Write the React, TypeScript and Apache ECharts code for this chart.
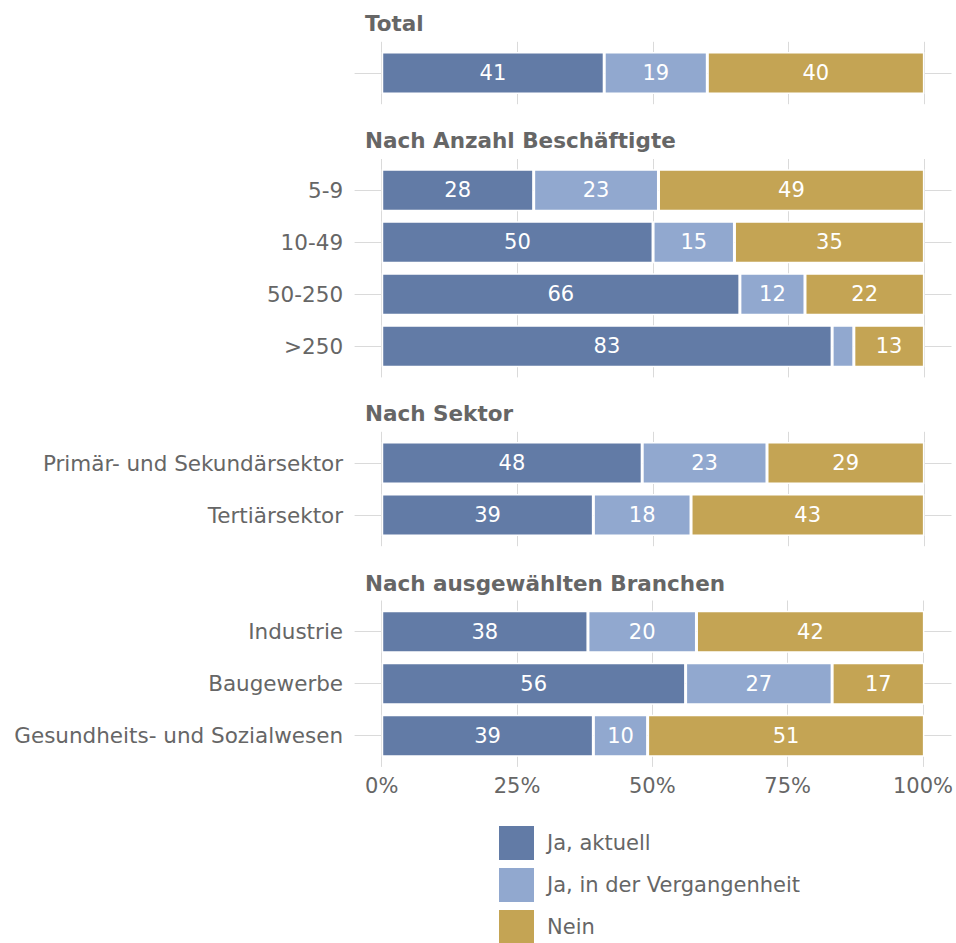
import React, { useEffect, useRef } from "react";
import * as echarts from "echarts";

// ---- data ----
const seriesNames = ["Ja, aktuell", "Ja, in der Vergangenheit", "Nein"];
const seriesColors = ["#627BA6", "#91A8CF", "#C4A454"];

const panelTitles = ["Total", "Nach Anzahl Beschäftigte", "Nach Sektor", "Nach ausgewählten Branchen"];

const totalCats = ["Total"];
const totalAktuell = [41];
const totalVergangen = [19];
const totalNein = [40];

const sizeCats = ["5-9", "10-49", "50-250", ">250"];
const sizeAktuell = [28, 50, 66, 83];
const sizeVergangen = [23, 15, 12, 4];
const sizeNein = [49, 35, 22, 13];

const sectorCats = ["Primär- und Sekundärsektor", "Tertiärsektor"];
const sectorAktuell = [48, 39];
const sectorVergangen = [23, 18];
const sectorNein = [29, 43];

const branchCats = ["Industrie", "Baugewerbe", "Gesundheits- und Sozialwesen"];
const branchAktuell = [38, 56, 39];
const branchVergangen = [20, 27, 10];
const branchNein = [42, 17, 51];

const xTickValues = [0, 25, 50, 75, 100];

const panels = [
  { cats: totalCats, values: [totalAktuell, totalVergangen, totalNein], showCats: false },
  { cats: sizeCats, values: [sizeAktuell, sizeVergangen, sizeNein], showCats: true },
  { cats: sectorCats, values: [sectorAktuell, sectorVergangen, sectorNein], showCats: true },
  { cats: branchCats, values: [branchAktuell, branchVergangen, branchNein], showCats: true },
];

// ---- layout ----
const FONT = "DejaVu Sans";
const TEXT = "#666666";
const GRID_LINE = "#dadada";
const ROW = 52;
const firstCenters = [73, 190.2, 463, 631.7];
const titleY = [23, 140, 413, 583];
const BAR_LEFT = 354.6;
const BAR_RIGHT = 4.5;
const BG_LEFT = 381.7;
const BG_RIGHT = 956 - 924.3;
const EXP = 0.6 * ROW;

export default function App() {
  const ref = useRef<HTMLDivElement>(null);

  useEffect(() => {
    document.body.style.margin = "0";
    if (!ref.current) return;
    const chart = echarts.init(ref.current, undefined, { renderer: "svg" });

    const grid: any[] = [];
    const xAxis: any[] = [];
    const yAxis: any[] = [];
    const series: any[] = [];
    const graphic: any[] = [];

    const n = panels.length;
    panels.forEach((p, i) => {
      const N = p.cats.length;
      const c0 = firstCenters[i];
      // bar grid
      grid.push({ left: BAR_LEFT, right: BAR_RIGHT, top: c0 - ROW / 2, height: N * ROW });
      xAxis.push({ gridIndex: i, type: "value", min: -5, max: 105, show: false });
      yAxis.push({
        gridIndex: i,
        type: "category",
        data: p.cats,
        inverse: true,
        axisLine: { show: false },
        axisTick: { show: false },
        splitLine: { show: false },
        axisLabel: {
          show: p.showCats,
          color: TEXT,
          fontFamily: FONT,
          fontSize: 21.5,
          margin: 11.5,
        },
      });
      p.values.forEach((vals, k) => {
        const s: any = {
          type: "bar",
          name: seriesNames[k],
          xAxisIndex: i,
          yAxisIndex: i,
          stack: "panel" + i,
          data: vals,
          barWidth: 42,
          z: 2,
          itemStyle: { color: seriesColors[k], borderColor: "#ffffff", borderWidth: 1.5 },
          label: {
            show: true,
            position: "inside",
            color: "#ffffff",
            fontFamily: FONT,
            fontSize: 21,
            formatter: (d: any) => (d.value >= 5 ? String(d.value) : ""),
          },
          emphasis: { disabled: true },
        };
        if (k === 0) {
          s.markLine = {
            silent: true,
            symbol: "none",
            z: 1,
            label: { show: false },
            lineStyle: { color: GRID_LINE, width: 1, type: "solid" },
            emphasis: { disabled: true },
            data: p.cats.map((c) => ({ yAxis: c })),
          };
        }
        series.push(s);
      });
      graphic.push({
        type: "text",
        x: 365,
        y: titleY[i],
        style: {
          text: panelTitles[i],
          fill: TEXT,
          font: `bold 21.5px "${FONT}"`,
          verticalAlign: "middle",
        },
      });
    });

    // background grids for vertical grid lines
    panels.forEach((p, i) => {
      const N = p.cats.length;
      const c0 = firstCenters[i];
      const top = c0 - EXP;
      const height = (N - 1) * ROW + 2 * EXP;
      const gi = n + i;
      grid.push({ left: BG_LEFT, right: BG_RIGHT, top, height });
      xAxis.push({
        gridIndex: gi,
        type: "value",
        min: 0,
        max: 100,
        interval: 25,
        axisLine: { show: false },
        axisTick: { show: false },
        splitLine: { show: true, lineStyle: { color: GRID_LINE, width: 1 } },
        axisLabel: {
          show: i === n - 1,
          color: TEXT,
          fontFamily: FONT,
          fontSize: 21,
          margin: 9,
          formatter: "{value}%",
        },
        data: xTickValues,
      });
      yAxis.push({ gridIndex: gi, type: "value", min: 0, max: 1, show: false });
    });

    chart.setOption({
      animation: false,
      grid,
      xAxis,
      yAxis,
      series,
      graphic,
      legend: {
        data: seriesNames,
        orient: "vertical",
        left: 499,
        top: 826,
        height: 200,
        padding: 0,
        itemWidth: 35,
        itemHeight: 34,
        itemGap: 8,
        icon: "rect",
        selectedMode: false,
        itemStyle: { borderWidth: 0 },
        textStyle: { color: TEXT, fontFamily: FONT, fontSize: 21, padding: [0, 0, 0, 8] },
      },
    });

    return () => chart.dispose();
  }, []);

  return <div ref={ref} style={{ width: 956, height: 943 }} />;
}
